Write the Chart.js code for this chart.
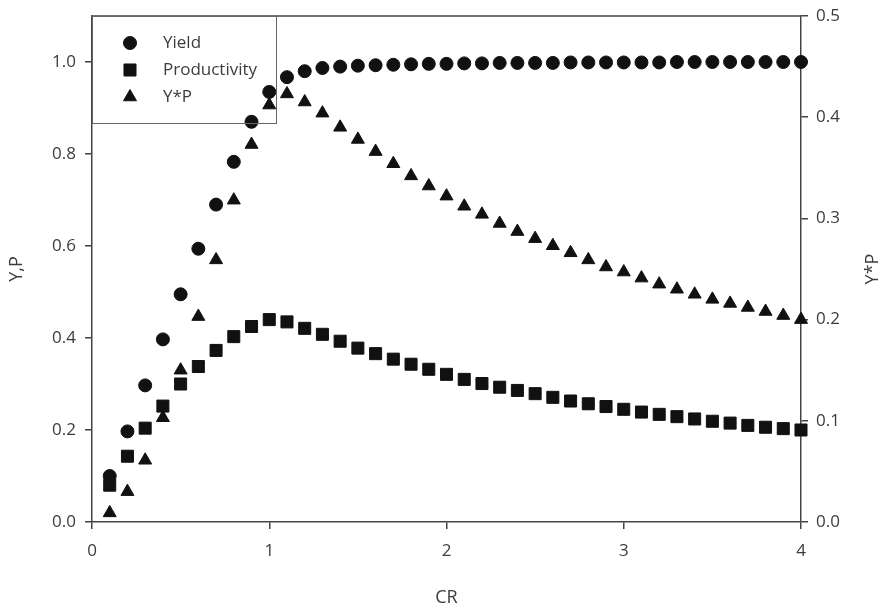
<!DOCTYPE html>
<html lang="en">
  <head>
    <meta charset="UTF-8" />
    <title>Yield and Productivity vs CR</title>
    <script src="https://cdn.jsdelivr.net/npm/chart.js"></script>
    <style>
      html, body { margin: 0; padding: 0; background: #fff; }
    </style>
  </head>
  <body>
    <canvas id="myChart" width="886" height="613"></canvas>

    <script>
      // CR values (x axis)
      const cr = [0.1, 0.2, 0.3, 0.4, 0.5, 0.6, 0.7, 0.8, 0.9, 1.0,
                  1.1, 1.2, 1.3, 1.4, 1.5, 1.6, 1.7, 1.8, 1.9, 2.0,
                  2.1, 2.2, 2.3, 2.4, 2.5, 2.6, 2.7, 2.8, 2.9, 3.0,
                  3.1, 3.2, 3.3, 3.4, 3.5, 3.6, 3.7, 3.8, 3.9, 4.0];

      // left axis (Y, P)
      const yieldVals = [0.100, 0.197, 0.297, 0.397, 0.495, 0.594, 0.690, 0.783, 0.870, 0.935,
                         0.967, 0.980, 0.987, 0.990, 0.992, 0.993, 0.994, 0.995, 0.996, 0.996,
                         0.997, 0.997, 0.998, 0.998, 0.998, 0.998, 0.999, 0.999, 0.999, 0.999,
                         0.999, 0.999, 1.000, 1.000, 1.000, 1.000, 1.000, 1.000, 1.000, 1.000];
      const prodVals = [0.080, 0.143, 0.204, 0.252, 0.300, 0.338, 0.373, 0.403, 0.425, 0.440,
                        0.435, 0.421, 0.408, 0.393, 0.378, 0.366, 0.354, 0.343, 0.332, 0.321,
                        0.310, 0.301, 0.293, 0.286, 0.279, 0.271, 0.263, 0.257, 0.251, 0.245,
                        0.239, 0.234, 0.229, 0.224, 0.219, 0.215, 0.210, 0.206, 0.203, 0.200];

      // right axis (Y*P)
      const ypVals = [0.009, 0.030, 0.061, 0.103, 0.150, 0.203, 0.259, 0.318, 0.373, 0.412,
                      0.423, 0.415, 0.404, 0.390, 0.378, 0.366, 0.354, 0.342, 0.332, 0.322,
                      0.312, 0.304, 0.295, 0.287, 0.280, 0.273, 0.266, 0.259, 0.252, 0.247,
                      0.241, 0.235, 0.230, 0.225, 0.220, 0.216, 0.212, 0.208, 0.204, 0.200];

      const xTicks = [0, 1, 2, 3, 4];
      const leftTicks = [0, 0.2, 0.4, 0.6, 0.8, 1.0];
      const rightTicks = [0, 0.1, 0.2, 0.3, 0.4, 0.5];

      const seriesNames = ['Yield', 'Productivity', 'Y*P'];
      const axisTitles = { x: 'CR', left: 'Y,P', right: 'Y*P' };

      const textColor = '#3c3c3c';
      const axisColor = '#444';
      const markColor = '#111';
      const fontFamily = '"Open Sans", sans-serif';

      const pts = vals => vals.map((v, i) => ({ x: cr[i], y: v }));

      const styles = [
        { pointStyle: 'circle', radius: 6.5 },
        { pointStyle: 'rect', radius: 8.5 },
        { pointStyle: 'triangle', radius: 7.5 }
      ];

      // fixed axis sizes; drop the label padding so the plot top stays at 16px
      const fitWidth = w => s => {
        s.width = w;
        s.paddingTop = 0;
        s.paddingBottom = 0;
      };

      // top frame line, boxed legend and axis titles
      const decorations = {
        id: 'decorations',
        afterDraw(chart) {
          const { ctx, chartArea: a } = chart;
          ctx.save();

          ctx.strokeStyle = axisColor;
          ctx.lineWidth = 1.5;
          ctx.beginPath();
          ctx.moveTo(a.left, a.top);
          ctx.lineTo(a.right, a.top);
          ctx.stroke();

          // legend box
          ctx.lineWidth = 1;
          ctx.strokeStyle = '#666';
          ctx.strokeRect(a.left + 0.5, a.top + 0.5, 184, 107);

          ctx.font = '17px ' + fontFamily;
          ctx.textBaseline = 'middle';
          ctx.textAlign = 'left';
          seriesNames.forEach((name, i) => {
            const y = a.top + 27 + i * 27;
            ctx.fillStyle = markColor;
            ctx.strokeStyle = markColor;
            Chart.helpers.drawPoint(ctx, {
              pointStyle: styles[i].pointStyle,
              radius: styles[i].radius,
              rotation: 0,
              borderWidth: 1
            }, a.left + 38, y);
            ctx.fillStyle = textColor;
            ctx.fillText(name, a.left + 71, y);
          });

          // axis titles
          ctx.font = '18px ' + fontFamily;
          ctx.fillStyle = textColor;
          ctx.textAlign = 'center';
          ctx.fillText(axisTitles.x, (a.left + a.right) / 2, 598);

          const midY = (a.top + a.bottom) / 2;
          ctx.save();
          ctx.translate(17, midY);
          ctx.rotate(-Math.PI / 2);
          ctx.fillText(axisTitles.left, 0, 0);
          ctx.restore();

          ctx.save();
          ctx.translate(873, midY);
          ctx.rotate(-Math.PI / 2);
          ctx.fillText(axisTitles.right, 0, 0);
          ctx.restore();

          ctx.restore();
        }
      };

      const tickFont = { family: fontFamily, size: 17 };
      const gridOpts = {
        display: true,
        drawOnChartArea: false,
        drawTicks: true,
        tickLength: 7,
        color: axisColor,
        lineWidth: 1.5
      };
      const borderOpts = { display: true, color: axisColor, width: 1.5 };

      const ctx = document.getElementById('myChart').getContext('2d');
      const myChart = new Chart(ctx, {
        type: 'scatter',
        data: {
          datasets: [
            {
              label: seriesNames[0],
              data: pts(yieldVals),
              yAxisID: 'y',
              pointStyle: styles[0].pointStyle,
              pointRadius: styles[0].radius,
              backgroundColor: markColor,
              borderColor: markColor,
              pointBorderWidth: 1,
              clip: false
            },
            {
              label: seriesNames[1],
              data: pts(prodVals),
              yAxisID: 'y',
              pointStyle: styles[1].pointStyle,
              pointRadius: styles[1].radius,
              backgroundColor: markColor,
              borderColor: markColor,
              pointBorderWidth: 1,
              clip: false
            },
            {
              label: seriesNames[2],
              data: pts(ypVals),
              yAxisID: 'y1',
              pointStyle: styles[2].pointStyle,
              pointRadius: styles[2].radius,
              backgroundColor: markColor,
              borderColor: markColor,
              pointBorderWidth: 1,
              clip: false
            }
          ]
        },
        options: {
          responsive: false,
          animation: false,
          layout: { autoPadding: false, padding: { top: 16, left: 0, right: 0, bottom: 0 } },
          plugins: {
            legend: { display: false },
            tooltip: { enabled: false }
          },
          scales: {
            x: {
              type: 'linear',
              position: 'bottom',
              min: 0,
              max: 4,
              afterBuildTicks: s => { s.ticks = xTicks.map(v => ({ value: v })); },
              afterFit: s => { s.height = 91; s.paddingLeft = 0; s.paddingRight = 0; },
              grid: gridOpts,
              border: borderOpts,
              ticks: {
                color: textColor,
                font: tickFont,
                padding: 12,
                maxRotation: 0,
                callback: v => String(v)
              }
            },
            y: {
              type: 'linear',
              position: 'left',
              min: 0,
              max: 1.1,
              afterBuildTicks: s => { s.ticks = leftTicks.map(v => ({ value: v })); },
              afterFit: fitWidth(92),
              grid: gridOpts,
              border: borderOpts,
              ticks: {
                color: textColor,
                font: tickFont,
                padding: 9,
                callback: v => v.toFixed(1)
              }
            },
            y1: {
              type: 'linear',
              position: 'right',
              min: 0,
              max: 0.5,
              afterBuildTicks: s => { s.ticks = rightTicks.map(v => ({ value: v })); },
              afterFit: fitWidth(85),
              grid: gridOpts,
              border: borderOpts,
              ticks: {
                color: textColor,
                font: tickFont,
                padding: 8,
                callback: v => v.toFixed(1)
              }
            }
          }
        },
        plugins: [decorations]
      });
    </script>
  </body>
</html>
